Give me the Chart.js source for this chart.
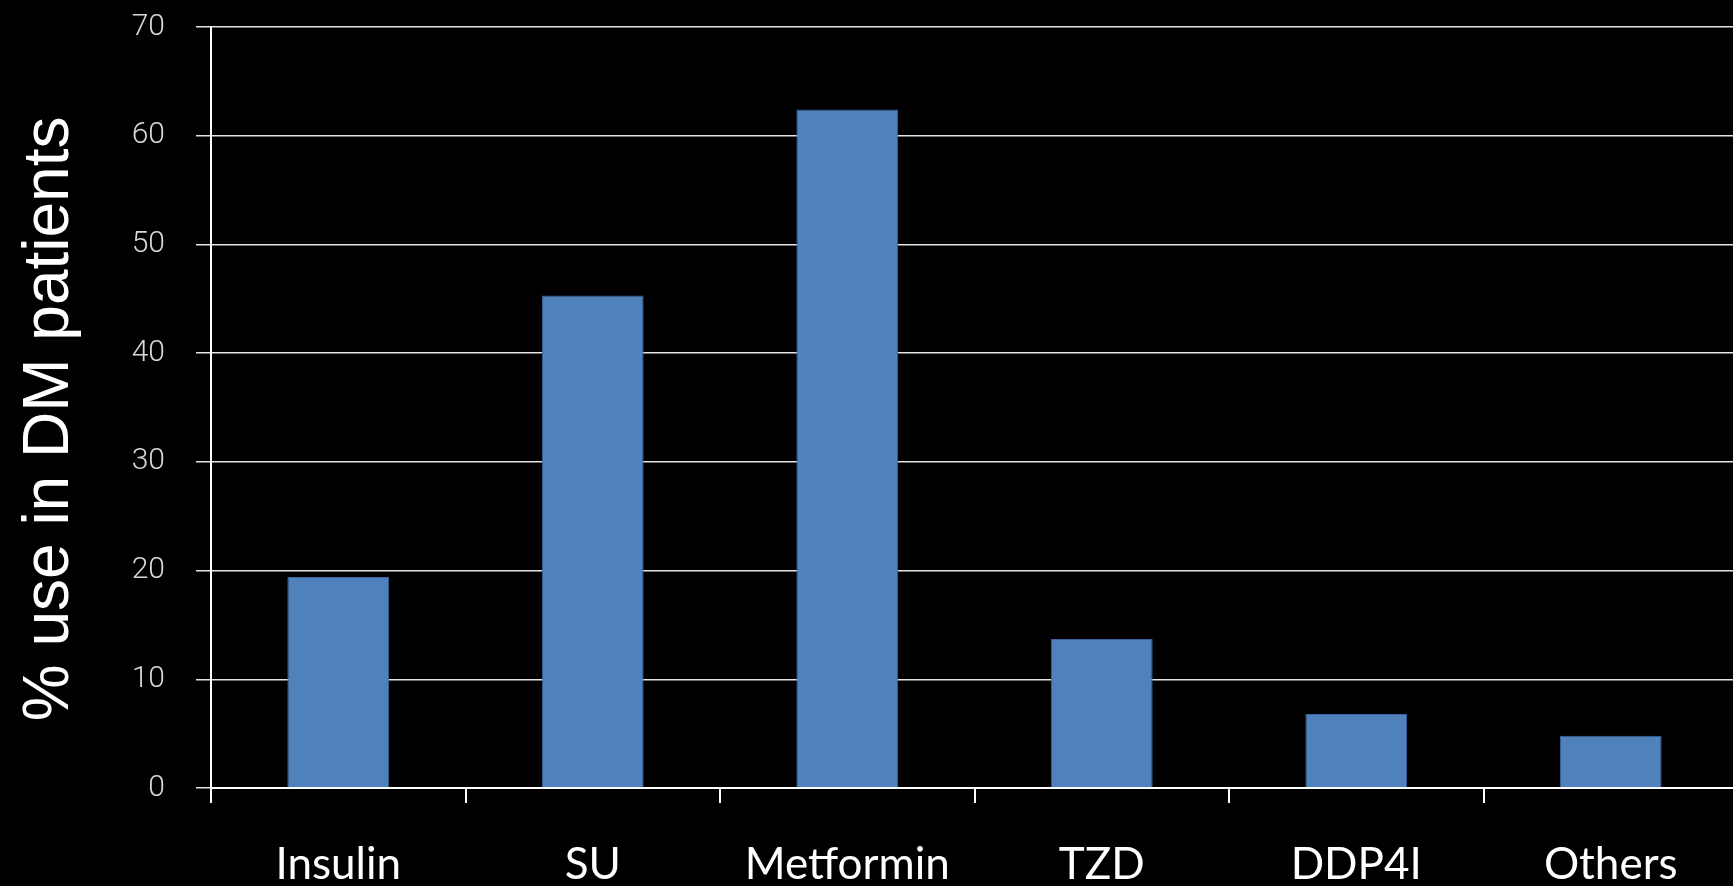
<!DOCTYPE html>
<html>
<head>
<meta charset="utf-8">
<script src="https://cdn.jsdelivr.net/npm/chart.js@4"></script>
<style>
  html, body { margin: 0; padding: 0; background: #000; overflow: hidden; }
  #wrap { position: relative; width: 1738px; height: 886px; }
</style>
</head>
<body>
<div id="wrap"><canvas id="chart"></canvas></div>
<script>
'use strict';

// data
const categories = ['Insulin', 'SU', 'Metformin', 'TZD', 'DDP4I', 'Others'];
const usePercent = [19.4, 45.3, 62.4, 13.7, 6.8, 4.8];
const yTickMin = 0;
const yTickMax = 70;
const yTickStep = 10;
const yTitleText = '% use in DM patients';

// rotated y title, drawn next to the axis
const yTitlePlugin = {
  id: 'yTitle',
  afterDraw(chart) {
    const ctx = chart.ctx;
    const area = chart.chartArea;
    ctx.save();
    ctx.translate(68, area.top + area.height * 0.515);
    ctx.rotate(-Math.PI / 2);
    ctx.font = '64px "Liberation Sans", Arial, sans-serif';
    ctx.fillStyle = '#ffffff';
    ctx.textAlign = 'center';
    ctx.textBaseline = 'alphabetic';
    ctx.fillText(yTitleText, 0, 0);
    ctx.restore();
  }
};

let ctx = document.getElementById('chart');

let barConfig = {
  type: 'bar',
  data: {
    labels: categories,
    datasets: [{
      label: '% use',
      data: usePercent,
      backgroundColor: '#4F81BD',
      borderColor: '#3B64A0',
      borderWidth: 1,
      barPercentage: 0.4,
      categoryPercentage: 1.0
    }]
  },
  options: {
    responsive: true,
    maintainAspectRatio: false,
    animation: false,
    layout: { padding: { top: 27, right: 0, bottom: 0, left: 0 } },
    plugins: {
      legend: { display: false },
      tooltip: { enabled: false }
    },
    scales: {
      x: {
        offset: true,
        afterFit(scale) { scale.height = 98; },
        grid: {
          offset: true,
          drawOnChartArea: false,
          drawTicks: true,
          tickLength: 15,
          color: '#ffffff',
          lineWidth: 2
        },
        border: { display: true, color: '#ffffff', width: 2 },
        ticks: {
          color: '#ffffff',
          padding: 35,
          font: { family: 'Lato, "Open Sans", sans-serif', size: 44 }
        }
      },
      y: {
        min: yTickMin,
        max: yTickMax,
        afterFit(scale) {
          scale.width = 211;
          scale.paddingTop = 0;
          scale.paddingBottom = 0;
        },
        grid: {
          color: '#e4e4e4',
          lineWidth: 1.5,
          drawTicks: true,
          tickLength: 15
        },
        border: { display: true, color: '#ffffff', width: 2 },
        ticks: {
          stepSize: yTickStep,
          color: '#d8d8d8',
          padding: 31,
          font: { family: 'Roboto, "Liberation Sans", sans-serif', size: 30, weight: '300' }
        }
      }
    }
  },
  plugins: [yTitlePlugin]
};

let barChart = new Chart(ctx, barConfig);
</script>
</body>
</html>
